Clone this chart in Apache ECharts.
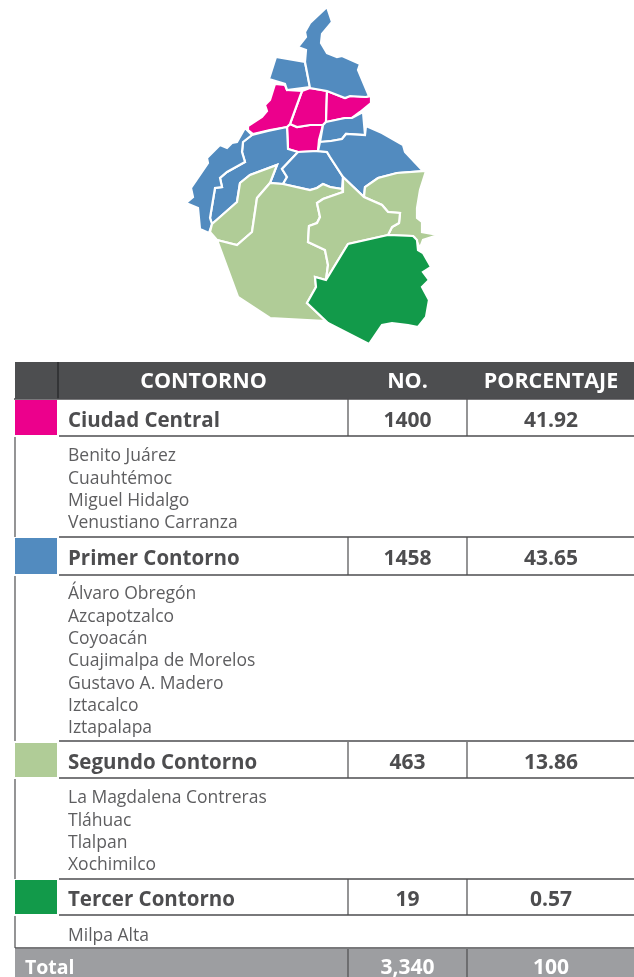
<!DOCTYPE html>
<html lang="es">
<head>
<meta charset="utf-8">
<title>Contornos</title>
<script src="https://cdn.jsdelivr.net/npm/echarts@6/dist/echarts.min.js"></script>
<style>
  html, body { margin: 0; padding: 0; background: #fff; }
  #chart { width: 634px; height: 977px; }
</style>
</head>
<body>
<div id="chart"></div>
<script>
// tabla
const contornos = ['Ciudad Central', 'Primer Contorno', 'Segundo Contorno', 'Tercer Contorno'];
const numeros = ['1400', '1458', '463', '19'];
const porcentajes = ['41.92', '43.65', '13.86', '0.57'];
const totalRow = ['Total', '3,340', '100'];
const headers = ['CONTORNO', 'NO.', 'PORCENTAJE'];
const ciudadCentral = ['Benito Juárez', 'Cuauhtémoc', 'Miguel Hidalgo', 'Venustiano Carranza'];
const primerContorno = ['Álvaro Obregón', 'Azcapotzalco', 'Coyoacán', 'Cuajimalpa de Morelos', 'Gustavo A. Madero', 'Iztacalco', 'Iztapalapa'];
const segundoContorno = ['La Magdalena Contreras', 'Tláhuac', 'Tlalpan', 'Xochimilco'];
const tercerContorno = ['Milpa Alta'];
const alcaldias = [ciudadCentral, primerContorno, segundoContorno, tercerContorno];

const benitoJuarez = [[290,124],[297,127],[310,125],[323,125],[319,140],[318,151],[298,152],[288,149],[287,127]];
const cuauhtemoc = [[302,91],[310,88],[327,91],[326,122],[323,125],[310,125],[297,127],[290,124]];
const miguelHidalgo = [[275,84],[285,85],[287,90],[302,91],[290,124],[287,127],[270,130],[253,134],[248,130],[248,126],[262,117],[267,111],[265,105],[270,100]];
const venustianoCarranza = [[327,91],[345,98],[350,96],[366,97],[371,96],[371,103],[360,112],[352,118],[345,118],[326,122]];
const alvaroObregon = [[252,135],[268,131],[287,127],[288,149],[298,152],[282,169],[287,177],[283,184],[270,183],[277,165],[250,175],[240,183],[237,202],[220,217],[212,224],[210,218],[215,188],[222,187],[220,178],[227,172],[245,162],[242,152],[243,142]];
const azcapotzalco = [[276,57],[305,62],[310,87],[287,90],[285,84],[269,79]];
const coyoacan = [[298,152],[318,151],[327,152],[330,157],[343,177],[342,189],[330,187],[323,184],[317,188],[310,190],[283,184],[287,177],[282,169]];
const cuajimalpa = [[245,128],[252,135],[243,142],[242,152],[245,162],[227,172],[220,178],[222,187],[215,188],[210,218],[212,224],[209,233],[200,229],[198,208],[186,203],[193,197],[191,188],[208,163],[207,158],[213,152],[220,145],[227,148],[232,143],[237,142]];
const gustavoMadero = [[327,7],[332,22],[322,34],[321,43],[327,53],[337,57],[342,56],[360,64],[358,70],[369,96],[366,97],[350,96],[345,98],[327,91],[310,88],[305,62],[306,50],[298,47],[306,37],[305,32],[310,23]];
const iztacalco = [[326,122],[345,118],[352,118],[363,112],[365,135],[346,134],[342,139],[331,141],[320,142],[323,125]];
const iztapalapa = [[320,142],[331,141],[342,139],[346,134],[365,135],[366,126],[382,133],[403,145],[405,152],[423,171],[397,173],[378,178],[365,187],[364,197],[343,177],[330,157],[327,152],[318,151]];
const magdalena = [[277,165],[270,183],[257,198],[252,232],[237,245],[217,240],[210,232],[212,224],[220,217],[237,202],[240,183],[250,175]];
const tlahuac = [[364,197],[365,187],[378,178],[397,173],[426,171],[420,190],[417,208],[417,218],[422,222],[422,232],[438,235],[423,240],[420,248],[415,238],[413,236],[388,235],[392,227],[399,223],[400,213],[388,212],[382,205]];
const tlalpan = [[217,240],[237,245],[252,232],[257,198],[270,183],[283,184],[310,190],[317,188],[323,184],[330,187],[342,189],[343,192],[323,199],[317,203],[320,217],[317,223],[309,226],[308,242],[325,250],[328,265],[326,280],[315,277],[316,287],[307,303],[326,321],[270,318],[238,297]];
const xochimilco = [[343,177],[364,197],[382,205],[388,212],[400,213],[399,223],[392,227],[388,235],[348,244],[326,280],[328,265],[325,250],[308,242],[309,226],[317,223],[320,217],[317,203],[323,199],[343,192]];
const milpaAlta = [[348,244],[388,235],[413,236],[417,240],[418,250],[423,253],[431,267],[423,272],[429,280],[422,287],[429,300],[426,317],[418,327],[408,325],[392,323],[382,325],[369,344],[328,323],[307,303],[316,287],[315,277],[326,280]];

const shapes = {
  'Benito Juárez': benitoJuarez,
  'Cuauhtémoc': cuauhtemoc,
  'Miguel Hidalgo': miguelHidalgo,
  'Venustiano Carranza': venustianoCarranza,
  'Álvaro Obregón': alvaroObregon,
  'Azcapotzalco': azcapotzalco,
  'Coyoacán': coyoacan,
  'Cuajimalpa de Morelos': cuajimalpa,
  'Gustavo A. Madero': gustavoMadero,
  'Iztacalco': iztacalco,
  'Iztapalapa': iztapalapa,
  'La Magdalena Contreras': magdalena,
  'Tláhuac': tlahuac,
  'Tlalpan': tlalpan,
  'Xochimilco': xochimilco,
  'Milpa Alta': milpaAlta
};

const colors = ['#ec008c', '#528bbf', '#b0cc97', '#129a4a'];
const FONT = '"Open Sans", "Noto Sans", sans-serif';
const DARK = '#4d4d4f';

const geoJson = {
  type: 'FeatureCollection',
  features: Object.keys(shapes).map(name => ({
    type: 'Feature',
    properties: { name },
    geometry: { type: 'Polygon', coordinates: [shapes[name].concat([shapes[name][0]])] }
  }))
};
echarts.registerMap('cdmx', geoJson);

// caja del mapa, sale de las siluetas
const allPoints = Object.values(shapes).flat();
const xs = allPoints.map(p => p[0]);
const ys = allPoints.map(p => p[1]);
const mapBox = {
  left: Math.min(...xs),
  top: Math.min(...ys),
  width: Math.max(...xs) - Math.min(...xs),
  height: Math.max(...ys) - Math.min(...ys)
};

const mapData = [];
alcaldias.forEach((list, i) => {
  list.forEach(name => {
    mapData.push({ name, value: i, itemStyle: { areaColor: colors[i] } });
  });
});

// layout de la tabla
const COL_1 = 348;
const COL_2 = 467;
const COL_END = 634;
const rowTops = [400, 538, 743, 880];
const rowBottoms = [436, 575, 778, 915];
const sectionEnds = [537, 741, 879, 948];
const listTops = [456.5, 594.5, 798.5, 936.5];
const LIST_STEP = 22.3;

const graphics = [];

function rect(x, y, w, h, fill) {
  graphics.push({ type: 'rect', silent: true, shape: { x, y, width: w, height: h }, style: { fill } });
}

function hline(x1, x2, y) {
  rect(x1, y - 0.75, x2 - x1, 1.5, DARK);
}

function vline(x, y1, y2) {
  rect(x - 0.6, y1, 1.2, y2 - y1, DARK);
}

function label(text, x, y, size, weight, fill, align) {
  graphics.push({
    type: 'text',
    silent: true,
    x,
    y,
    style: { text, fill, font: weight + ' ' + size + 'px ' + FONT, align: align || 'left', verticalAlign: 'middle' }
  });
}

// encabezado
rect(15, 362, COL_END - 15, 37, '#4d4e50');
rect(57, 362, 2, 37, '#333436');
hline(14, COL_END, 399);
label(headers[0], 203.5, 381.5, 21.5, 700, '#fff', 'center');
label(headers[1], 407.5, 381.5, 21.5, 700, '#fff', 'center');
label(headers[2], 551, 381.5, 21.5, 700, '#fff', 'center');

contornos.forEach((name, i) => {
  const top = rowTops[i];
  const bottom = rowBottoms[i];
  const mid = (top + bottom) / 2 + 3;
  rect(15, top, 42, bottom - top - 1, colors[i]);
  hline(59, COL_END, bottom);
  vline(COL_1, top - 1, bottom);
  vline(COL_2, top - 1, bottom);
  label(name, 68, mid, 20.5, 700, DARK);
  label(numeros[i], 407.5, mid, 21, 700, DARK, 'center');
  label(porcentajes[i], 551, mid, 21, 700, DARK, 'center');

  vline(15, bottom + 1, sectionEnds[i]);
  hline(i === 3 ? 15 : 59, COL_END, sectionEnds[i]);
  alcaldias[i].forEach((sub, j) => {
    label(sub, 68, listTops[i] + j * LIST_STEP, 17.5, 400, '#5e5e60');
  });
});

// total
rect(15, 949, COL_END - 15, 28, '#9d9ea1');
vline(COL_1, 949, 977);
vline(COL_2, 949, 977);
label(totalRow[0], 25, 968, 19.5, 700, '#fff');
label(totalRow[1], 407.5, 968, 21, 700, '#fff', 'center');
label(totalRow[2], 551, 968, 21, 700, '#fff', 'center');

const myChart = echarts.init(document.getElementById('chart'), null, { renderer: 'canvas' });
myChart.setOption({
  animation: false,
  backgroundColor: '#fff',
  tooltip: { show: false },
  series: [
    {
      type: 'map',
      map: 'cdmx',
      silent: true,
      roam: false,
      // las siluetas ya vienen en pixeles
      projection: {
        project: p => [p[0], p[1]],
        unproject: p => [p[0], p[1]]
      },
      left: mapBox.left,
      top: mapBox.top,
      width: mapBox.width,
      height: mapBox.height,
      label: { show: false },
      itemStyle: { borderColor: '#fff', borderWidth: 2.2 },
      data: mapData
    }
  ],
  graphic: graphics
});
</script>
</body>
</html>
